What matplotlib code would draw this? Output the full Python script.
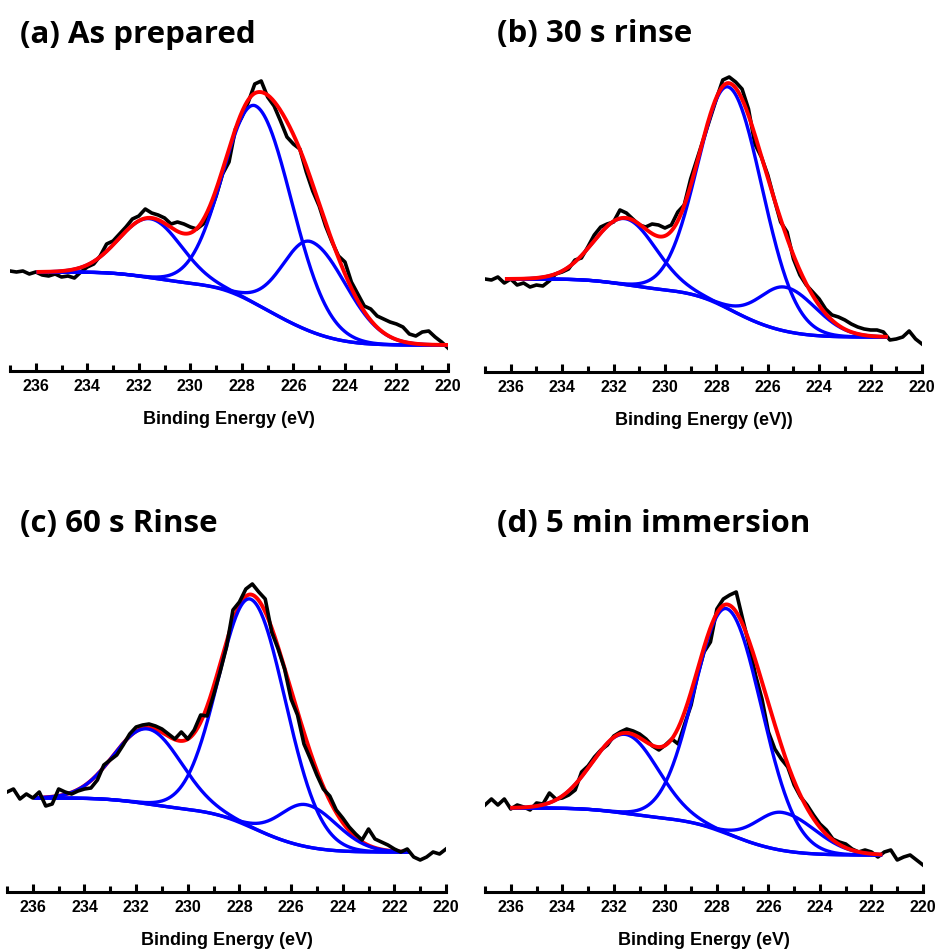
import numpy as np
import matplotlib
matplotlib.use("Agg")
import matplotlib.pyplot as plt
from matplotlib.ticker import MultipleLocator

# Binding energy grid of the measured spectra (eV)
energy = np.arange(237.0, 219.99, -0.25)

# Measured intensity (a.u.) for each sample, one value per grid point
intensity_a = [100, 99, 100, 97, 99, 96, 95, 97, 94, 95, 93, 99, 104, 107, 115, 127, 130,
               137, 144, 152, 155, 162, 158, 156, 153, 147, 149, 147, 144, 142, 147, 157,
               175, 197, 209, 242, 254, 269, 287, 290, 274, 265, 250, 234, 227, 222, 199,
               180, 165, 145, 129, 115, 109, 89, 77, 65, 62, 55, 52, 49, 47, 44, 37, 35,
               39, 40, 34, 29, 23]
intensity_b = [93, 92, 95, 89, 93, 87, 89, 85, 87, 86, 91, 98, 100, 103, 112, 114, 125,
               137, 145, 148, 150, 162, 159, 153, 147, 145, 148, 147, 144, 147, 160, 167,
               193, 213, 233, 253, 273, 292, 295, 290, 283, 263, 228, 215, 197, 173, 150,
               140, 113, 97, 87, 80, 73, 63, 57, 55, 52, 48, 45, 43, 42, 42, 40, 32, 33,
               35, 41, 33, 28]
intensity_c = [100, 103, 93, 98, 94, 100, 86, 88, 103, 100, 98, 101, 103, 104, 112, 127,
               132, 137, 147, 158, 165, 167, 168, 166, 163, 158, 153, 160, 153, 162, 177,
               176, 197, 220, 245, 282, 290, 303, 308, 300, 293, 260, 243, 223, 193, 177,
               148, 133, 117, 103, 96, 82, 74, 65, 58, 52, 63, 53, 50, 47, 43, 40, 43, 35,
               32, 35, 40, 38, 43]
intensity_d = [87, 93, 87, 93, 83, 87, 85, 82, 89, 88, 99, 93, 94, 97, 102, 120, 126, 135,
               142, 147, 156, 160, 163, 161, 158, 153, 146, 142, 147, 153, 148, 168, 187,
               217, 240, 250, 283, 293, 297, 300, 273, 247, 217, 193, 160, 143, 133, 125,
               107, 95, 87, 77, 68, 62, 53, 50, 48, 43, 40, 42, 40, 35, 40, 42, 32, 35, 37,
               32, 27]

# Fitted components: asymmetric Gaussian peaks on a Shirley background
peak_centers = [[231.55, 227.45, 225.30],
                [231.55, 227.50, 225.30],
                [231.55, 227.55, 225.40],
                [231.55, 227.60, 225.45]]
peak_heights = [[59, 198, 90],
                [66, 222, 44],
                [75, 228, 42],
                [79, 225, 38]]
# widths (sigma, eV) on the high- and low-binding-energy side of each peak
sigma_high = [[1.20, 1.25, 1.10],
              [1.20, 1.20, 1.00],
              [1.30, 1.25, 1.00],
              [1.27, 1.25, 1.00]]
sigma_low = [[1.20, 1.40, 1.38],
             [1.20, 1.30, 1.20],
             [1.30, 1.35, 1.20],
             [1.27, 1.35, 1.30]]
background_ends = [(99, 26), (93, 35), (94, 40), (84, 37)]
fit_ranges = [(235.9, 220.0), (236.15, 221.4), (235.9, 221.5), (235.95, 221.65)]

titles = ["(a) As prepared", "(b) 30 s rinse", "(c) 60 s Rinse", "(d) 5 min immersion"]
xlabels = ["Binding Energy (eV)", "Binding Energy (eV))",
           "Binding Energy (eV)", "Binding Energy (eV)"]

W, H = 938, 953
# left, right, bottom, top of each panel in pixels
panel_boxes = [(10, 448, 372, 72), (485, 922, 373, 73),
               (7, 446, 893, 573), (485, 923, 893, 573)]
title_pos = [(20, 43), (497, 42), (20, 532), (497, 532)]

plt.rcParams['font.family'] = ['Liberation Sans', 'DejaVu Sans']


def shirley_fit(e, centers, heights, s_hi, s_lo, bg_hi, bg_lo):
    peaks = []
    for c, h, a, b in zip(centers, heights, s_hi, s_lo):
        s = np.where(e >= c, a, b)
        peaks.append(h * np.exp(-(e - c) ** 2 / (2 * s ** 2)))
    total = np.sum(peaks, axis=0)
    # e runs from high to low BE; area on the low-BE side of each point
    area_low = np.cumsum(total[::-1])[::-1]
    bg = bg_lo + (bg_hi - bg_lo) * area_low / area_low[0]
    return bg, peaks


fig = plt.figure(figsize=(W / 100, H / 100), dpi=100)
measured = [intensity_a, intensity_b, intensity_c, intensity_d]

for i in range(4):
    left, right, bottom, top = panel_boxes[i]
    ax = fig.add_axes([left / W, 1 - bottom / H, (right - left) / W, (bottom - top) / H])

    e_fit = np.linspace(fit_ranges[i][0], fit_ranges[i][1], 500)
    bg, peaks = shirley_fit(e_fit, peak_centers[i], peak_heights[i],
                            sigma_high[i], sigma_low[i], *background_ends[i])

    # (c) has the raw data drawn over the envelope
    z_black = 4 if i == 2 else 1
    z_red = 1.5 if i == 2 else 3
    ax.plot(energy, measured[i], color='black', lw=2.6, zorder=z_black)
    ax.plot(e_fit, bg, color='#0000ff', lw=2.4, zorder=2)
    for p in peaks:
        ax.plot(e_fit, bg + p, color='#0000ff', lw=2.4, zorder=2)
    ax.plot(e_fit, bg + np.sum(peaks, axis=0), color='#ff0000', lw=2.8, zorder=z_red)

    ax.set_xlim(237, 220)
    ax.set_ylim(0, bottom - top)
    for side in ['top', 'left', 'right']:
        ax.spines[side].set_visible(False)
    ax.spines['bottom'].set_linewidth(2.2)
    ax.set_yticks([])
    ax.xaxis.set_major_locator(MultipleLocator(2))
    ax.xaxis.set_minor_locator(MultipleLocator(1))
    ax.tick_params(axis='x', which='major', direction='in', length=6, width=2.2,
                   labelsize=11.5, pad=5)
    ax.tick_params(axis='x', which='minor', direction='in', length=4, width=2.2)
    for lab in ax.get_xticklabels():
        lab.set_fontweight('bold')
    ax.set_xlabel(xlabels[i], fontsize=13, fontweight='bold', labelpad=12.5)
    ax.patch.set_alpha(0)

    tx, ty = title_pos[i]
    fig.text(tx / W, 1 - ty / H, titles[i], fontsize=22.5, fontweight='bold',
             family=['Open Sans', 'DejaVu Sans'], va='baseline', ha='left')

fig.savefig('out.png', dpi=100)
